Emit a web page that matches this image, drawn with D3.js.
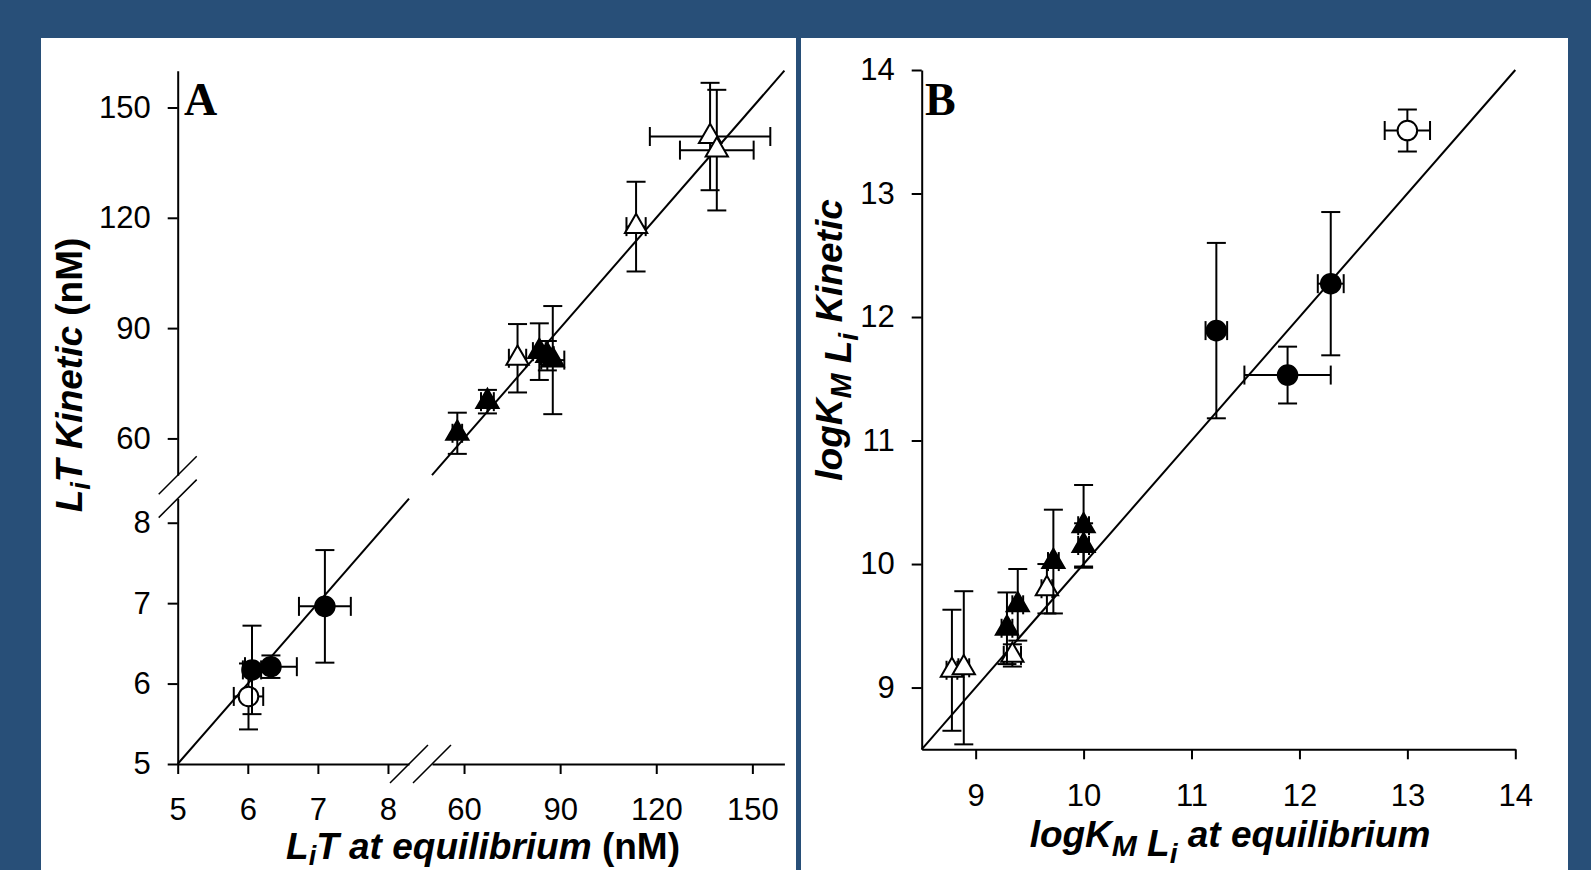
<!DOCTYPE html>
<html>
<head>
<meta charset="utf-8">
<script src="https://cdn.jsdelivr.net/npm/d3@7"></script>
<style>
  body { margin: 0; background: #284f78; }
  svg { display: block; }
</style>
</head>
<body>
<div id="chart"></div>
<script>

// Panel A: LiT kinetic vs LiT at equilibrium (nM), both axes broken between 8.3 and 50.
var aLowTicks = [5, 6, 7, 8];
var aHighTicks = [60, 90, 120, 150];
var aFilledCircles = [
  { x: 6.06, y: 6.17, ex: 0.13, ey: 0.55 },
  { x: 6.33, y: 6.21, ex: 0.37, ey: 0.14 },
  { x: 7.10, y: 6.96, ex: 0.37, ey: 0.70 }
];
var aOpenCircles = [
  { x: 6.01, y: 5.84, ex: 0.21, ey: 0.41 }
];
var aOpenTriangles = [
  { x: 76.7, y: 81.8, ex: 2.7, ey: 9.3 },
  { x: 113.7, y: 117.6, ex: 3.0, ey: 12.2 },
  { x: 136.8, y: 142.1, ex: 18.8, ey: 14.6 },
  { x: 138.9, y: 138.4, ex: 11.5, ey: 16.4 }
];
var aFilledTriangles = [
  { x: 57.9, y: 61.4, ex: 1.5, ey: 5.6 },
  { x: 67.3, y: 70.0, ex: 2.0, ey: 3.2 },
  { x: 83.5, y: 83.6, ex: 2.0, ey: 7.7 },
  { x: 86.0, y: 82.5, ex: 2.0, ey: 4.0 },
  { x: 87.7, y: 81.3, ex: 3.6, ey: 14.7 }
];

// Panel B: logKM Li kinetic vs at equilibrium.
var bTicks = [9, 10, 11, 12, 13, 14];
var bFilledCircles = [
  { x: 11.23, y: 11.89, ex: 0.10, ey: 0.71 },
  { x: 11.89, y: 11.53, ex: 0.40, ey: 0.23 },
  { x: 12.29, y: 12.27, ex: 0.12, ey: 0.58 }
];
var bOpenCircles = [
  { x: 13.00, y: 13.51, ex: 0.21, ey: 0.17 }
];
var bOpenTriangles = [
  { x: 8.78, y: 9.14, ex: 0.05, ey: 0.49 },
  { x: 8.89, y: 9.16, ex: 0.05, ey: 0.62 },
  { x: 9.34, y: 9.26, ex: 0.08, ey: 0.09 },
  { x: 9.66, y: 9.80, ex: 0.05, ey: 0.20 }
];
var bFilledTriangles = [
  { x: 9.29, y: 9.48, ex: 0.05, ey: 0.29 },
  { x: 9.39, y: 9.67, ex: 0.05, ey: 0.29 },
  { x: 9.72, y: 10.02, ex: 0.05, ey: 0.42 },
  { x: 10.00, y: 10.31, ex: 0.05, ey: 0.33 },
  { x: 10.00, y: 10.15, ex: 0.05, ey: 0.18 }
];

var width = 1591, height = 870,
  bg = "#284f78",
  sansFont = '"Liberation Sans", Arial, sans-serif',
  serifFont = '"Liberation Serif", "Times New Roman", serif',
  tickFont = 31,
  titleFont = 37,
  capW = 19;

var svg = d3.select("#chart").append("svg")
  .attr("width", width)
  .attr("height", height);

svg.append("rect").attr("width", width).attr("height", height).attr("fill", bg);
// white slide area and the divider between the panels
svg.append("rect").attr("x", 41).attr("y", 38).attr("width", 1527).attr("height", height - 38).attr("fill", "#fff");
svg.append("rect").attr("x", 796).attr("y", 38).attr("width", 5).attr("height", height - 38).attr("fill", bg);

// ---------- scales ----------
var axLow = d3.scaleLinear().domain([5, 8.3]).range([177.7, 409]);
var axHigh = d3.scaleLinear().domain([50, 160]).range([432, 784.4]);
var ayLow = d3.scaleLinear().domain([5, 8.3]).range([764, 498.6]);
var ayHigh = d3.scaleLinear().domain([50, 160]).range([475.2, 70.7]);
var ax = function(v) { return v <= 8.3 ? axLow(v) : axHigh(v); };
var ay = function(v) { return v <= 8.3 ? ayLow(v) : ayHigh(v); };

var bx = d3.scaleLinear().domain([8.5, 14]).range([921.7, 1515.3]);
var by = d3.scaleLinear().domain([8.5, 14]).range([749.3, 70]);

function styleAxis(g) {
  g.attr("font-size", null).attr("font-family", null);
  g.selectAll("path, line").attr("stroke", "#000").attr("stroke-width", 2);
  g.selectAll("text")
    .attr("fill", "#000")
    .style("font-family", sansFont)
    .style("font-size", tickFont + "px");
}

function xAxis(scale, ticks, y0, labelY) {
  var g = svg.append("g")
    .attr("transform", "translate(0," + y0 + ")")
    .call(d3.axisBottom(scale).tickValues(ticks).tickSize(10).tickSizeOuter(0).tickFormat(d3.format("d")));
  styleAxis(g);
  g.selectAll("text").attr("y", labelY).attr("dy", 0);
}

function yAxis(scale, ticks, x0) {
  var g = svg.append("g")
    .attr("transform", "translate(" + x0 + ",0)")
    .call(d3.axisLeft(scale).tickValues(ticks).tickSize(10).tickPadding(17).tickSizeOuter(0).tickFormat(d3.format("d")));
  styleAxis(g);
}

// Panel A axes (two segments each)
xAxis(axLow, aLowTicks, 764, 56);
xAxis(axHigh, aHighTicks, 764, 56);
yAxis(ayLow, aLowTicks, 177.7);
yAxis(ayHigh, aHighTicks, 177.7);

// break marks
var breaks = [
  [axLow(8.3), 764], [axHigh(50), 764],
  [177.7, ayLow(8.3)], [177.7, ayHigh(50)]
];
svg.selectAll(".break")
  .data(breaks)
  .enter().append("line")
    .attr("x1", function(d) { return d[0] - 19; })
    .attr("y1", function(d) { return d[1] + 19; })
    .attr("x2", function(d) { return d[0] + 19; })
    .attr("y2", function(d) { return d[1] - 19; })
    .attr("stroke", "#000")
    .attr("stroke-width", 1.5);

// identity lines
var line = d3.line();
svg.append("path")
  .attr("d", line([[axLow(5), ayLow(5)], [axLow(8.3), ayLow(8.3)]]))
  .attr("stroke", "#000").attr("stroke-width", 2).attr("fill", "none");
svg.append("path")
  .attr("d", line([[axHigh(50), ayHigh(50)], [axHigh(160), ayHigh(160)]]))
  .attr("stroke", "#000").attr("stroke-width", 2).attr("fill", "none");

// Panel B axes
xAxis(bx, bTicks, 749.3, 57);
yAxis(by, bTicks, 921.7);
svg.append("path")
  .attr("d", line([[bx(8.5), by(8.5)], [bx(14), by(14)]]))
  .attr("stroke", "#000").attr("stroke-width", 2).attr("fill", "none");

// ---------- error bars and markers ----------
function errorBars(data, sx, sy) {
  var g = svg.append("g").attr("stroke", "#000").attr("stroke-width", 2);
  data.forEach(function(d) {
    var cx = sx(d.x), cy = sy(d.y);
    var y1 = sy(d.y - d.ey), y2 = sy(d.y + d.ey);
    var x1 = sx(d.x - d.ex), x2 = sx(d.x + d.ex);
    g.append("line").attr("x1", cx).attr("x2", cx).attr("y1", y1).attr("y2", y2);
    g.append("line").attr("x1", cx - capW / 2).attr("x2", cx + capW / 2).attr("y1", y1).attr("y2", y1);
    g.append("line").attr("x1", cx - capW / 2).attr("x2", cx + capW / 2).attr("y1", y2).attr("y2", y2);
    g.append("line").attr("x1", x1).attr("x2", x2).attr("y1", cy).attr("y2", cy);
    g.append("line").attr("x1", x1).attr("x2", x1).attr("y1", cy - capW / 2).attr("y2", cy + capW / 2);
    g.append("line").attr("x1", x2).attr("x2", x2).attr("y1", cy - capW / 2).attr("y2", cy + capW / 2);
  });
}

function markers(data, sx, sy, type, filled) {
  var size = type === d3.symbolCircle ? 300 : 215;
  svg.selectAll(null)
    .data(data)
    .enter().append("path")
      .attr("d", d3.symbol().type(type).size(size))
      .attr("transform", function(d) { return "translate(" + sx(d.x) + "," + sy(d.y) + ")"; })
      .attr("fill", filled ? "#000" : "#fff")
      .attr("stroke", "#000")
      .attr("stroke-width", 2);
}

[[aOpenCircles, false, d3.symbolCircle], [aFilledCircles, true, d3.symbolCircle],
 [aOpenTriangles, false, d3.symbolTriangle], [aFilledTriangles, true, d3.symbolTriangle]].forEach(function(s) {
  errorBars(s[0], ax, ay);
  markers(s[0], ax, ay, s[2], s[1]);
});

[[bOpenTriangles, false, d3.symbolTriangle], [bFilledTriangles, true, d3.symbolTriangle],
 [bFilledCircles, true, d3.symbolCircle], [bOpenCircles, false, d3.symbolCircle]].forEach(function(s) {
  errorBars(s[0], bx, by);
  markers(s[0], bx, by, s[2], s[1]);
});

// ---------- panel letters ----------
svg.append("text").text("A")
  .attr("x", 184).attr("y", 115)
  .style("font-family", serifFont).style("font-weight", "bold").style("font-size", "46px");
svg.append("text").text("B")
  .attr("x", 925).attr("y", 115)
  .style("font-family", serifFont).style("font-weight", "bold").style("font-size", "46px");

// ---------- axis titles ----------
function title(x, y, rotate, parts) {
  var t = svg.append("text")
    .attr("text-anchor", "middle")
    .attr("transform", "translate(" + x + "," + y + ")" + (rotate ? " rotate(-90)" : ""))
    .style("font-family", sansFont)
    .style("font-weight", "bold")
    .style("font-size", titleFont + "px");
  parts.forEach(function(p) {
    t.append("tspan")
      .text(p.t)
      .attr("dy", p.dy || 0)
      .style("font-style", p.italic === false ? "normal" : "italic")
      .style("font-size", (p.size || titleFont) + "px");
  });
}

title(483, 859, false, [
  { t: "L" }, { t: "i", size: 27, dy: 6 }, { t: "T at equilibrium ", dy: -6 }, { t: "(nM)", italic: false }
]);
title(82, 375, true, [
  { t: "L" }, { t: "i", size: 27, dy: 8 }, { t: "T Kinetic ", dy: -8 }, { t: "(nM)", italic: false }
]);
title(1230, 847, false, [
  { t: "logK" }, { t: "M", size: 30, dy: 9 }, { t: " L", size: 37 }, { t: "i", size: 28, dy: 7 }, { t: " at equilibrium", dy: -16 }
]);
title(842, 340, true, [
  { t: "logK" }, { t: "M", size: 30, dy: 9 }, { t: " L", size: 37 }, { t: "i", size: 28, dy: 7 }, { t: " Kinetic", dy: -16 }
]);

</script>
</body>
</html>
